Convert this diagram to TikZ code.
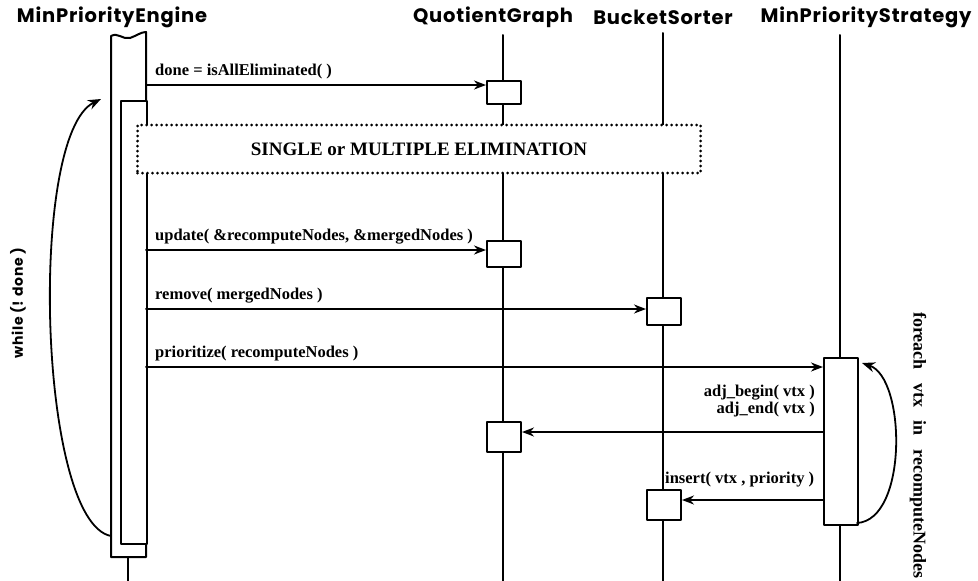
\documentclass[tikz,border=0pt]{standalone}
\usepackage{fontspec}
\setmainfont{Liberation Serif}
\newfontfamily\headfont{Poppins}[LetterSpace=4]
\usetikzlibrary{arrows.meta,calc}
\tikzset{
  head/.style={font=\headfont\bfseries\fontsize{19.5}{21}\selectfont,inner sep=0pt},
  lbl/.style={font=\bfseries\fontsize{16.5}{17}\selectfont,inner sep=0pt},
  actbox/.style={draw,fill=white,line width=2pt,minimum width=34pt,inner sep=0pt},
  lifeline/.style={line width=2pt},
  msg/.style={line width=2pt,-{Stealth[length=12pt,width=9pt]}},
  loopar/.style={line width=1.8pt,-{Stealth[length=13pt,width=10pt]}}
}
\begin{document}
\begin{tikzpicture}[x=1pt,y=-1pt,line cap=round,line join=round]
  \useasboundingbox (0,0) rectangle (978,581);
  % object headers
  \node[head] (eng) at (112,17) {MinPriorityEngine};
  \node[head] (qg) at (493,17) {QuotientGraph};
  \node[head] (bs) at (663,17) {BucketSorter};
  \node[head] (strat) at (866,17) {MinPriorityStrategy};
  % lifelines
  \draw[lifeline] (503,35) -- (503,581);
  \draw[lifeline] (663,33) -- (663,581);
  \draw[lifeline] (840,35) -- (840,581);
  \draw[lifeline] (128,557) -- (128,581);
  % engine activation with torn top
  \draw[line width=2pt,fill=white] (111,557) -- (111,36)
    .. controls (118,32) and (123,40) .. (130,38)
    .. controls (136,36) and (141,32) .. (146,32) -- (146,557) -- cycle;
  \node[actbox,anchor=north west,minimum width=26pt,minimum height=443pt] (engin) at (120,100) {};
  % while loop
  \coordinate (w1) at (111,536);
  \coordinate (w2) at (101,99);
  \draw[loopar] (w1) .. controls (38,522) and (28,135) .. (w2);
  \node[font=\headfont\bfseries\fontsize{14}{16}\selectfont,inner sep=0pt,rotate=90] (wlbl) at (18,303) {while (! done )};
  % receiver boxes
  \node[actbox,anchor=north west,minimum height=23pt] (qga) at (486,80) {};
  \node[actbox,anchor=north west,minimum height=26pt] (qgb) at (486,240) {};
  \node[actbox,anchor=north west,minimum height=27pt] (bsa) at (646,297) {};
  \node[actbox,anchor=north west,minimum height=167pt] (stb) at (823,357) {};
  \node[actbox,anchor=north west,minimum height=30pt] (qgc) at (486,421) {};
  \node[actbox,anchor=north west,minimum height=30pt] (bsb) at (646,489) {};
  % elimination fragment
  \node[draw,fill=white,line width=3pt,dash pattern=on 0pt off 5pt,line cap=round,
    minimum width=563pt,minimum height=48pt,inner sep=0pt,
    font=\bfseries\fontsize{19}{21}\selectfont] (elim) at (419,149)
    {SINGLE or MULTIPLE ELIMINATION};
  % messages
  \coordinate (m1) at (146,85);
  \draw[msg] (m1) -- (m1 -| qga.west);
  \node[lbl,anchor=south west] at ($(m1)+(9,-6)$) {done = isAllEliminated( )};
  \coordinate (m2) at (146,250);
  \draw[msg] (m2) -- (m2 -| qgb.west);
  \node[lbl,anchor=south west] at ($(m2)+(9,-6)$) {update( \&recomputeNodes, \&mergedNodes )};
  \coordinate (m3) at (146,309);
  \draw[msg] (m3) -- (m3 -| bsa.west);
  \node[lbl,anchor=south west] at ($(m3)+(9,-6)$) {remove( mergedNodes )};
  \coordinate (m4) at (146,367);
  \draw[msg] (m4) -- (m4 -| stb.west);
  \node[lbl,anchor=south west] at ($(m4)+(9,-6)$) {prioritize( recomputeNodes )};
  \coordinate (m5) at (823,432);
  \draw[msg] (m5) -- (m5 -| qgc.east);
  \node[lbl,anchor=south east,align=right] at ($(m5)+(-8,-15)$) {adj\_begin( vtx )\\adj\_end( vtx )};
  \coordinate (m6) at (823,500);
  \draw[msg] (m6) -- (m6 -| bsb.east);
  \node[lbl,anchor=south west] at (665,487) {insert( vtx , priority )};
  % foreach loop
  \coordinate (f1) at (857,523);
  \coordinate (f2) at (862,363);
  \draw[loopar] (f1) .. controls (908,520) and (906,378) .. (f2);
  \node[lbl,font=\bfseries\fontsize{18}{19}\selectfont,rotate=-90,anchor=west] (flbl) at (918,312) {foreach\ \ \ vtx\ \ \ in\ \ \ recomputeNodes};
\end{tikzpicture}
\end{document}
